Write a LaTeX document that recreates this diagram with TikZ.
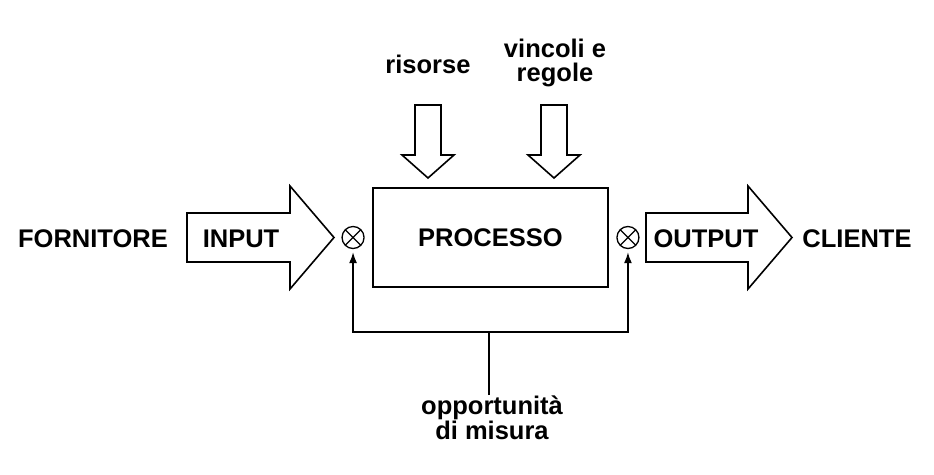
\documentclass[tikz,border=0pt]{standalone}
\usepackage{fontspec}
\setmainfont{Liberation Sans}
\usetikzlibrary{positioning, arrows.meta}

\begin{document}
\begin{tikzpicture}[x=1pt, y=-1pt, node distance=8pt, line width=1.6pt]
    % Define styles
    \tikzstyle{txt} = [font=\fontsize{25.5}{25}\selectfont\bfseries, inner sep=0pt, align=center]
    \tikzstyle{processbox} = [draw, rectangle, minimum width=235pt, minimum height=99pt, txt]
    \tikzstyle{measure} = [draw, circle, minimum size=22pt, inner sep=0pt, line width=1.3pt,
        path picture={\draw[line width=1.3pt] (path picture bounding box.north west) -- (path picture bounding box.south east)
            (path picture bounding box.north east) -- (path picture bounding box.south west);}]
    \tikzstyle{fatarrow} = [draw, line width=1.6pt, line join=miter]
    \tikzstyle{feedback} = [-{Latex[length=11pt, width=8pt]}, line width=1.6pt, shorten >=3pt]

    \useasboundingbox (0,0) rectangle (934,474);

    % PROCESS
    \node (processo) [processbox] at (490.5,237.5) {PROCESSO};
    \node (xin) [measure, left=7.5pt of processo] {};
    \node (xout) [measure, right=7.5pt of processo] {};

    % Texts
    \node (fornitore) [txt] at (93,239) {FORNITORE};
    \node (inputtxt) [txt] at (241,238.5) {INPUT};
    \node (outputtxt) [txt] at (706,238.5) {OUTPUT};
    \node (cliente) [txt] at (857,239) {CLIENTE};
    \node (risorse) [txt] at (428,64) {risorse};
    \node (vincoli) [txt] at (555,63) {vincoli e\\[-1pt]regole};
    \node (opp) [txt] at (492,418) {opportunità\\di misura};

    % Big arrows
    \draw[fatarrow] (187,213) -- (290,213) -- (290,186) -- (334,237.5) -- (290,289) -- (290,262) -- (187,262) -- cycle;
    \draw[fatarrow] (646,213) -- (748,213) -- (748,186) -- (792,237.5) -- (748,289) -- (748,262) -- (646,262) -- cycle;
    \draw[fatarrow] (415,105) -- (441,105) -- (441,155) -- (454,155) -- (428,178) -- (402,155) -- (415,155) -- cycle;
    \draw[fatarrow] (541,105) -- (567,105) -- (567,155) -- (580,155) -- (554,178) -- (528,155) -- (541,155) -- cycle;

    % Measuring feedback
    \coordinate (fbjoin) at (489,332);
    \draw (opp.north -| fbjoin) -- (fbjoin);
    \draw[feedback] (fbjoin) -| (xin);
    \draw[feedback] (fbjoin) -| (xout);

\end{tikzpicture}
\end{document}
